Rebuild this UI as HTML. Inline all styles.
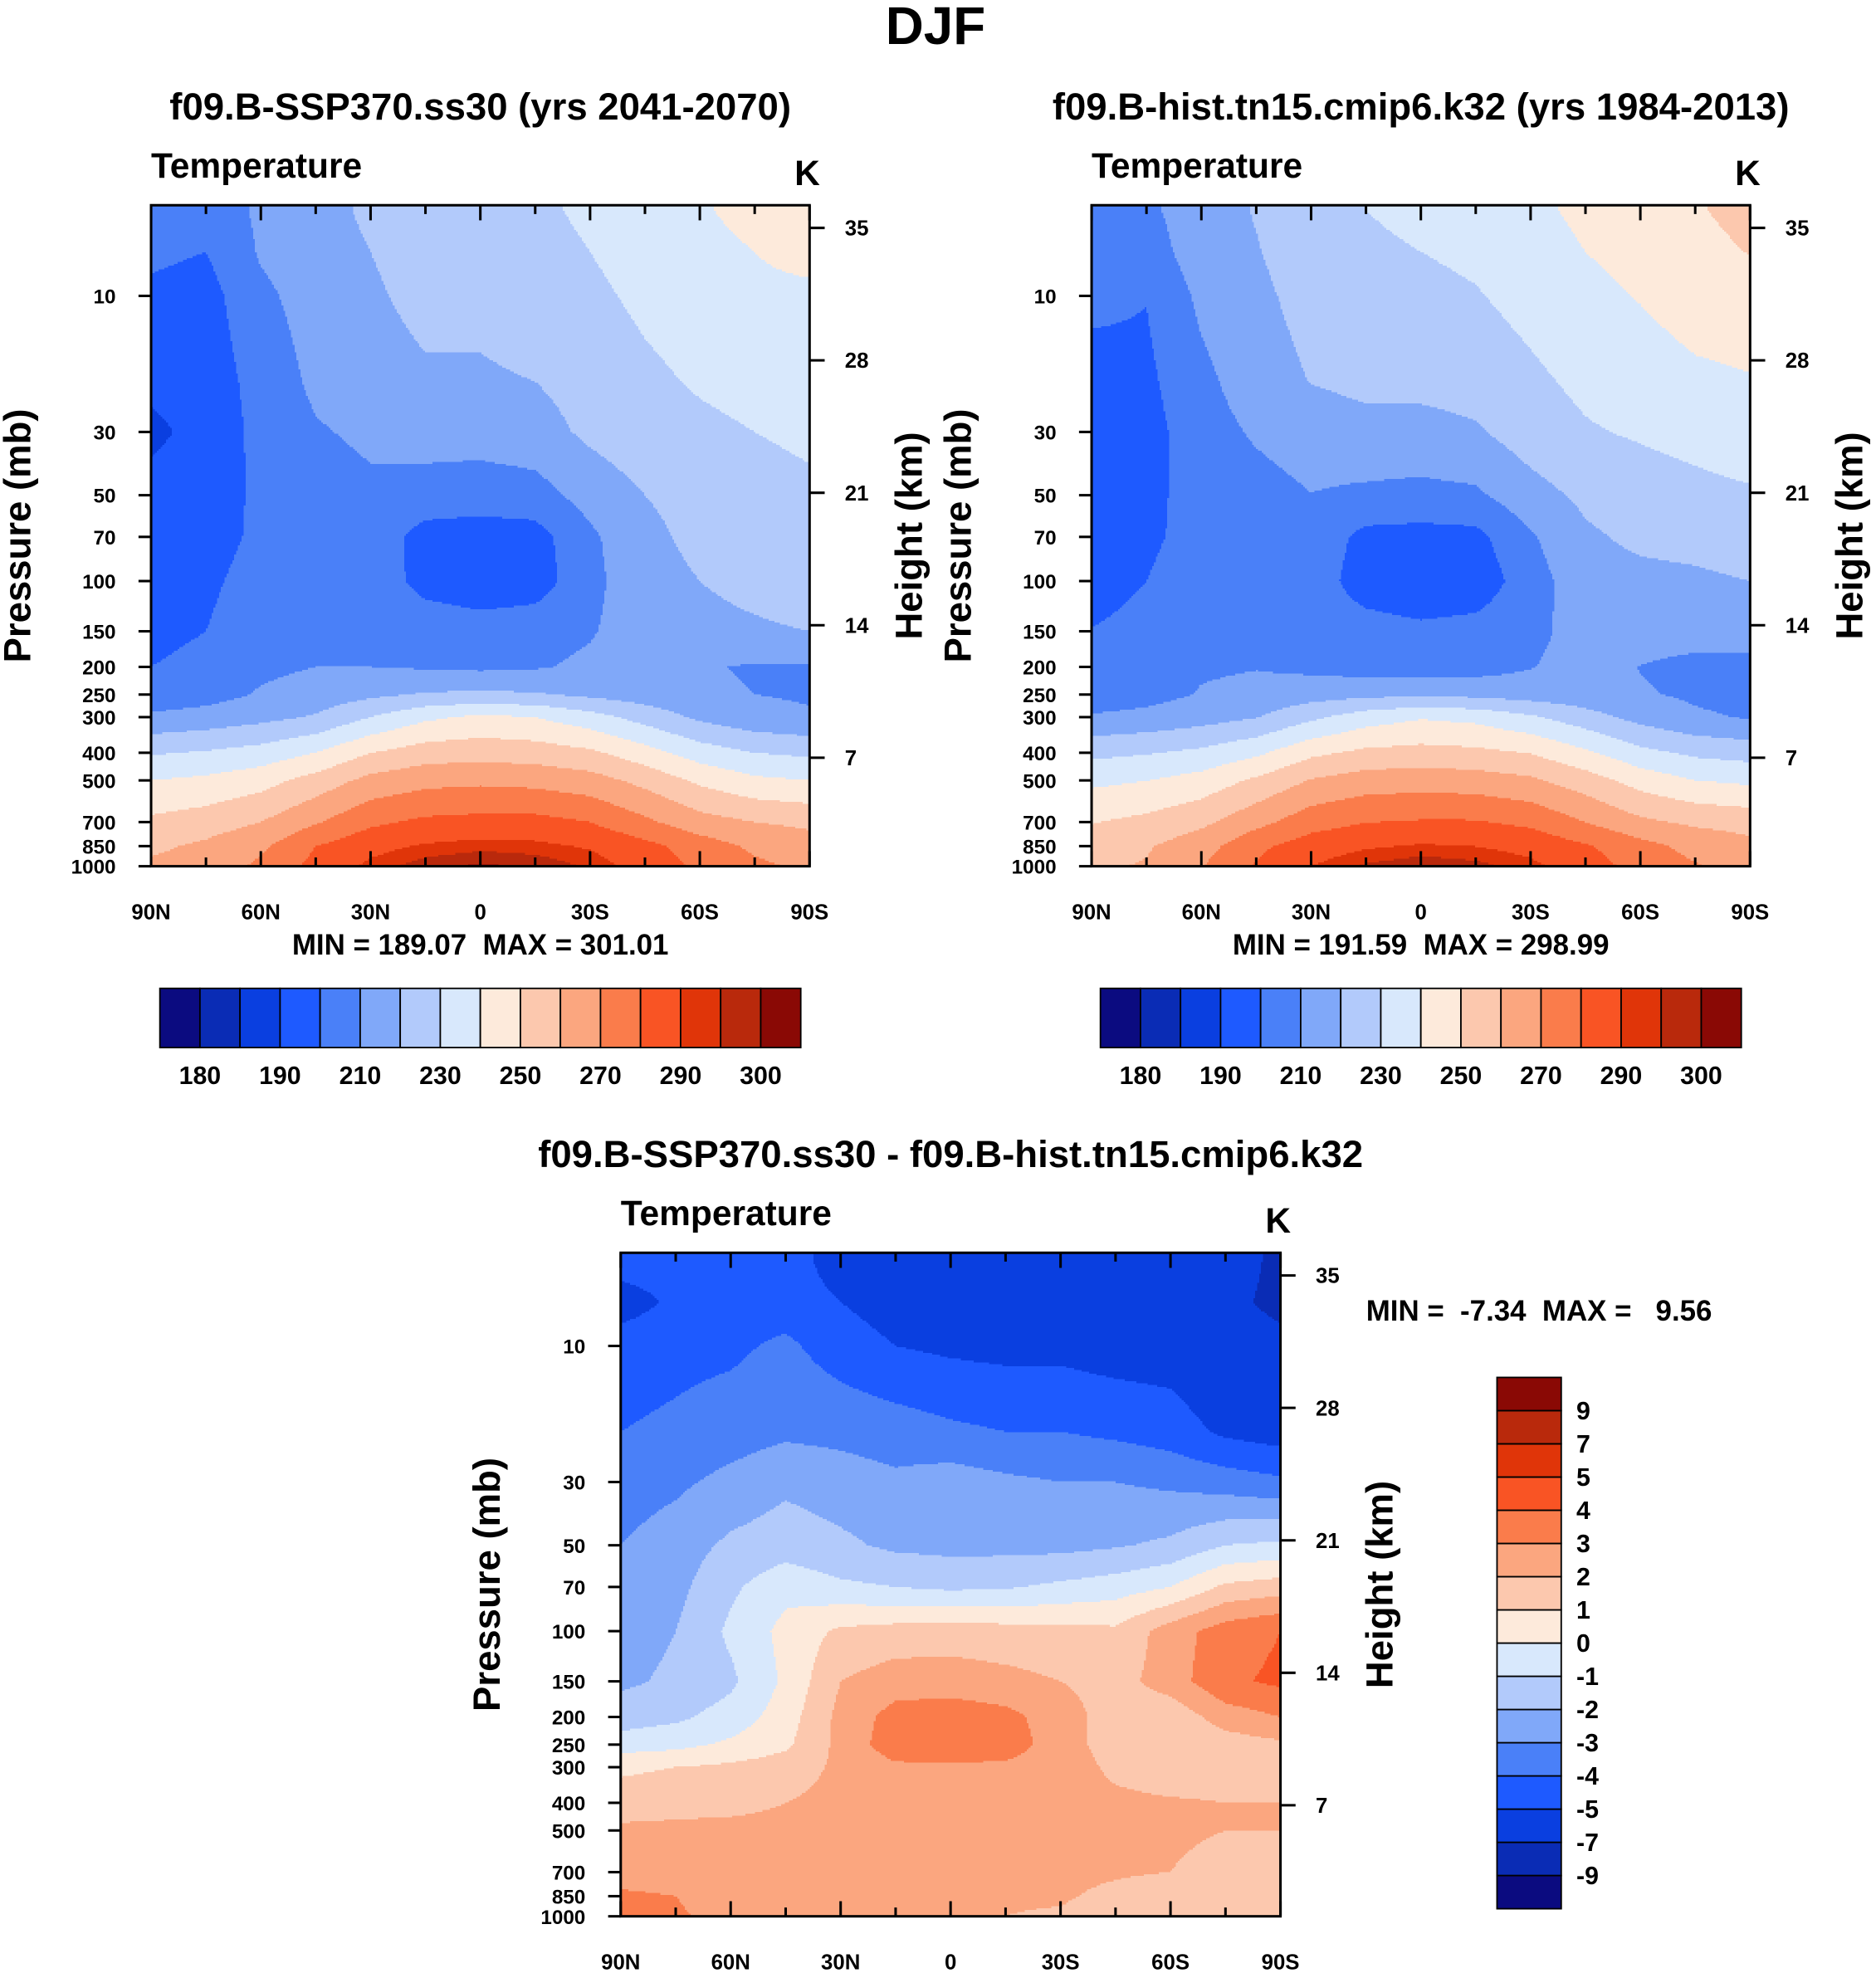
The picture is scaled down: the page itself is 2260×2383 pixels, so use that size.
<!DOCTYPE html>
<html><head><meta charset="utf-8"><style>
html,body{margin:0;padding:0;background:#fff}
svg{display:block;font-family:"Liberation Sans",Arial,sans-serif;font-weight:bold}
.pre{white-space:pre}
</style></head><body>
<svg id="s" xmlns="http://www.w3.org/2000/svg" width="2260" height="2383" viewBox="0 0 1490 1571" preserveAspectRatio="none">
<text x="743" y="35" font-size="42" text-anchor="middle">DJF</text>
</svg>
<script>
// ---- data ----
const latitudes=[90,75,60,45,30,15,0,-15,-30,-45,-60,-75,-90];
const pressureLevels=[5,7,10,20,30,50,70,100,150,200,250,300,400,500,700,850,1000];
const pressureTicks=[10,30,50,70,100,150,200,250,300,400,500,700,850,1000];
const heightTicks=[35,28,21,14,7];
const latTickLabels=["90N","60N","30N","0","30S","60S","90S"];
const tempLevels=[180,185,190,200,210,220,230,240,250,260,270,280,290,295,300];
const tempLabels=["180","190","210","230","250","270","290","300"];
const diffLevels=[-9,-7,-5,-4,-3,-2,-1,0,1,2,3,4,5,7,9];
const diffLabels=["-9","-7","-5","-4","-3","-2","-1","0","1","2","3","4","5","7","9"];
const colors=["#0b0b80","#0a2cb5","#0a3fe0","#1e5aff","#4a80f8","#80a8f9","#b2cafb","#d8e8fc","#fdeadb","#fcc8ae","#fba67f","#fa7c4b","#f95424","#e03509","#b9290c","#8a0905"];
const futureTemp=[
[204,203,212,216,222,224,226,228,232,236,239,243,246],
[202,200,211,215,220,223,224,226,230,234,237,240,243],
[198,196,208,214,219,222,222,224,228,232,235,238,238],
[192,194,204,212,217,219,219,220,224,228,231,233,234],
[188,193,203,209,212,214,214,216,222,226,228,230,232],
[193,195,202,205,208,206,205,206,214,220,223,226,228],
[194,196,202,204,206,196,195,196,208,218,222,224,226],
[195,198,204,206,207,196,193,195,207,217,220,222,224],
[198,200,206,208,208,207,205,206,209,216,218,219,220],
[200,202,208,210,210,209,208,209,212,216,211,209,209],
[203,206,211,214,218,221,222,221,218,215,212,210,209],
[212,214,217,221,230,238,242,240,234,226,218,213,211],
[229,231,234,240,250,255,256,255,252,244,235,230,228],
[240,242,246,254,263,267,268,267,264,257,248,242,240],
[252,255,260,269,278,282,283,283,280,272,264,260,258],
[258,262,268,280,287,291,293,292,289,283,275,268,264],
[262,264,272,283,292,298,301,299,294,286,278,272,268]];
const tempDiff=[
[-4.5,-4.5,-4.5,-4.5,-5.5,-6,-6,-6,-6,-6,-6,-6,-7.5],
[-5.5,-4.8,-4.5,-4.5,-5,-5.5,-6,-6,-6,-6,-6,-6.5,-7.5],
[-4.5,-4.3,-4.2,-3.8,-4.5,-5,-5.2,-5.3,-5.3,-5.5,-5.5,-6,-6.5],
[-4,-3.8,-3.5,-3.2,-3.3,-3.5,-3.8,-4,-4,-4.2,-4.5,-5.2,-5.5],
[-3.5,-3.2,-2.7,-2.2,-2.5,-2.8,-2.5,-2.8,-3,-3,-3.2,-3.5,-3.8],
[-3,-2.5,-1.8,-1.5,-1.8,-2.2,-2.3,-2.3,-2.3,-2.1,-1.8,-1,-0.8],
[-2.8,-2.3,-1.2,-0.3,-0.8,-1.0,-1.2,-1.1,-0.8,-0.5,0,1.2,1.5],
[-2.5,-2,-0.8,0.3,1.2,1.4,1.5,1.4,1.3,1.2,2.5,3.5,4],
[-2.2,-1.8,-1.2,0.2,2,2.5,2.5,2.3,2,1.6,2.5,3.8,4.2],
[-1.5,-1.2,-0.6,0.5,2.3,3.4,3.6,3.3,2.5,1.5,1.3,2.5,3],
[-0.5,-0.3,0.2,0.8,2.3,3.6,3.5,3.5,2.5,1.5,1,1.5,1.8],
[0.8,1,1.2,1.5,2.2,2.8,2.9,2.8,2.5,1.8,1.5,1.6,1.8],
[1.5,1.7,1.8,2,2.3,2.6,2.6,2.5,2.3,2.2,2.1,2,2],
[2.2,2.2,2.2,2.2,2.3,2.3,2.3,2.3,2.3,2.2,2.1,2,2],
[2.5,2.4,2.3,2.2,2.2,2.2,2.2,2.2,2.2,2.1,2,1.8,1.5],
[3.2,3,2.3,2.2,2.1,2.1,2.1,2.1,2.1,1.8,1.5,1.3,1.5],
[3.5,3.2,2.5,2.1,2,2,2,2,1.9,1.6,1.3,1.2,1.8]];
const histTemp=futureTemp.map((r,i)=>r.map((v,j)=>v-tempDiff[i][j]));

// ---- drawing ----
const NS="http://www.w3.org/2000/svg";
const svg=document.getElementById('s');
function el(tag,attrs,parent,txt){const e=document.createElementNS(NS,tag);for(const k in attrs)e.setAttribute(k,attrs[k]);if(txt!==undefined)e.textContent=txt;(parent||svg).appendChild(e);return e;}
const PXDEC=226.5;
function sample(field,lat,p){
  let c=(90-lat)/15;c=Math.max(0,Math.min(12,c));let c0=Math.min(11,Math.floor(c)),fc=c-c0;
  const lp=Math.log10(p);let r0=0;
  for(let i=0;i<pressureLevels.length-1;i++){if(p>=pressureLevels[i])r0=i;}
  r0=Math.min(r0,pressureLevels.length-2);
  let a=Math.log10(pressureLevels[r0]),b=Math.log10(pressureLevels[r0+1]);
  let fr=(lp-a)/(b-a);fr=Math.max(0,Math.min(1,fr));
  const v00=field[r0][c0],v01=field[r0][c0+1],v10=field[r0+1][c0],v11=field[r0+1][c0+1];
  return (v00*(1-fc)+v01*fc)*(1-fr)+(v10*(1-fc)+v11*fc)*fr;
}
function colorIdx(v,levels){let k=0;for(const l of levels)if(v>=l)k++;return k;}
function txt(parent,attrs,s,name){const t=el('text',attrs,parent,s);return t;}
function panel(name,x0,y0,w,h,field,levels,title,minmax){
  const g=el('g',{},svg);
  
  
  const ybot=y0+h,st=1.5;
  const cg=el('g',{'shape-rendering':'crispEdges'},g);
  
  
  const nx=Math.ceil(w/st),ny=Math.ceil(h/st);
  for(let j=0;j<ny;j++){
    const y=y0+j*st,hh=Math.min(st,ybot-y);
    const yc=y+hh/2;const p=1000/Math.pow(10,(ybot-yc)/PXDEC);
    let start=0,cur=-1;
    for(let i=0;i<=nx;i++){
      let k=-2;
      if(i<nx){const xc=x0+Math.min((i+0.5)*st,w);const lat=90-(xc-x0)/w*180;k=colorIdx(sample(field,lat,p),levels);}
      if(k!==cur){
        if(cur>=0){const xs=x0+start*st,xe=Math.min(x0+i*st,x0+w);
          const r=el('rect',{x:xs,y:y,width:xe-xs+0.4,height:hh+0.4,fill:colors[cur]},cg);
          
          }
        start=i;cur=k;
      }
    }
  }
  const fr=el('rect',{x:x0,y:y0,width:w,height:h,fill:'none',stroke:'#000','stroke-width':2},g);
  
  
  for(let i=0;i<=12;i++){const x=x0+w*i/12,L=i%2?7:12;
    el('line',{x1:x,y1:y0,x2:x,y2:y0+L,stroke:'#000','stroke-width':2},g);
    el('line',{x1:x,y1:ybot,x2:x,y2:ybot-L,stroke:'#000','stroke-width':2},g);}
  latTickLabels.forEach((t,i)=>txt(g,{x:x0+w*i/6,y:ybot+42,'font-size':17,'text-anchor':'middle'},t,'lat-tick-label'));
  pressureTicks.forEach(p=>{const y=ybot-PXDEC*Math.log10(1000/p);
    el('line',{x1:x0,y1:y,x2:x0-10,y2:y,stroke:'#000','stroke-width':2},g);
    txt(g,{x:x0-28,y:y+6,'font-size':16,'text-anchor':'end'},String(p),'pressure-tick-label');});
  heightTicks.forEach(km=>{const y=y0+18+(35-km)/7*105.2;
    el('line',{x1:x0+w,y1:y,x2:x0+w+12,y2:y,stroke:'#000','stroke-width':2},g);
    txt(g,{x:x0+w+28,y:y+6,'font-size':17},String(km),'height-tick-label');});
  txt(g,{x:x0,y:y0-22,'font-size':28},'Temperature','variable-label');
  txt(g,{x:x0+w-12,y:y0-16,'font-size':28},'K','units-label');
  txt(g,{x:x0+w/2,y:y0-68,'font-size':30,'text-anchor':'middle'},title,'panel-title');
  txt(g,{transform:`translate(${x0-96},${y0+h/2}) rotate(-90)`,'font-size':30,'text-anchor':'middle'},'Pressure (mb)','y-axis-title');
  txt(g,{transform:`translate(${x0+w+89},${y0+h/2}) rotate(-90)`,'font-size':30,'text-anchor':'middle'},'Height (km)','right-axis-title');
  if(minmax)txt(g,{x:x0+w/2,y:ybot+70,'font-size':23,'text-anchor':'middle','class':'pre'},minmax,'min-max-label');
}
function hbar(name,x0,y0,w,h){
  const g=el('g',{},svg);
  
  
  const bw=w/colors.length;
  colors.forEach((c,i)=>{const r=el('rect',{x:x0+i*bw,y:y0,width:bw,height:h,fill:c,stroke:'#000','stroke-width':1.2},g);
    });
  tempLabels.forEach((l,i)=>txt(g,{x:x0+(2*i+1)*bw,y:y0+h+29,'font-size':20,'text-anchor':'middle'},l,'colorbar-label'));
}
panel('panel-future',120,163,523,525,futureTemp,tempLevels,'f09.B-SSP370.ss30 (yrs 2041-2070)','MIN = 189.07  MAX = 301.01');
panel('panel-historical',867,163,523,525,histTemp,tempLevels,'f09.B-hist.tn15.cmip6.k32 (yrs 1984-2013)','MIN = 191.59  MAX = 298.99');
panel('panel-difference',493,995,524,527,tempDiff,diffLevels,'f09.B-SSP370.ss30 - f09.B-hist.tn15.cmip6.k32',null);
hbar('colorbar-future',127,785,509,47);
hbar('colorbar-historical',874,785,509,47);
(function(){
  const g=el('g',{},svg);
  
  
  const x0=1189,y0=1094,w=51,h=422,bh=h/colors.length;
  colors.forEach((c,i)=>{const r=el('rect',{x:x0,y:y0+h-(i+1)*bh,width:w,height:bh,fill:c,stroke:'#000','stroke-width':1.2},g);
    });
  diffLabels.forEach((l,i)=>txt(g,{x:x0+w+12,y:y0+h-(i+1)*bh+7,'font-size':20},l,'colorbar-label'));
  txt(g,{x:1085,y:1049,'font-size':23,'class':'pre'},'MIN =  -7.34  MAX =   9.56','min-max-label');
})();
</script>
</body></html>
